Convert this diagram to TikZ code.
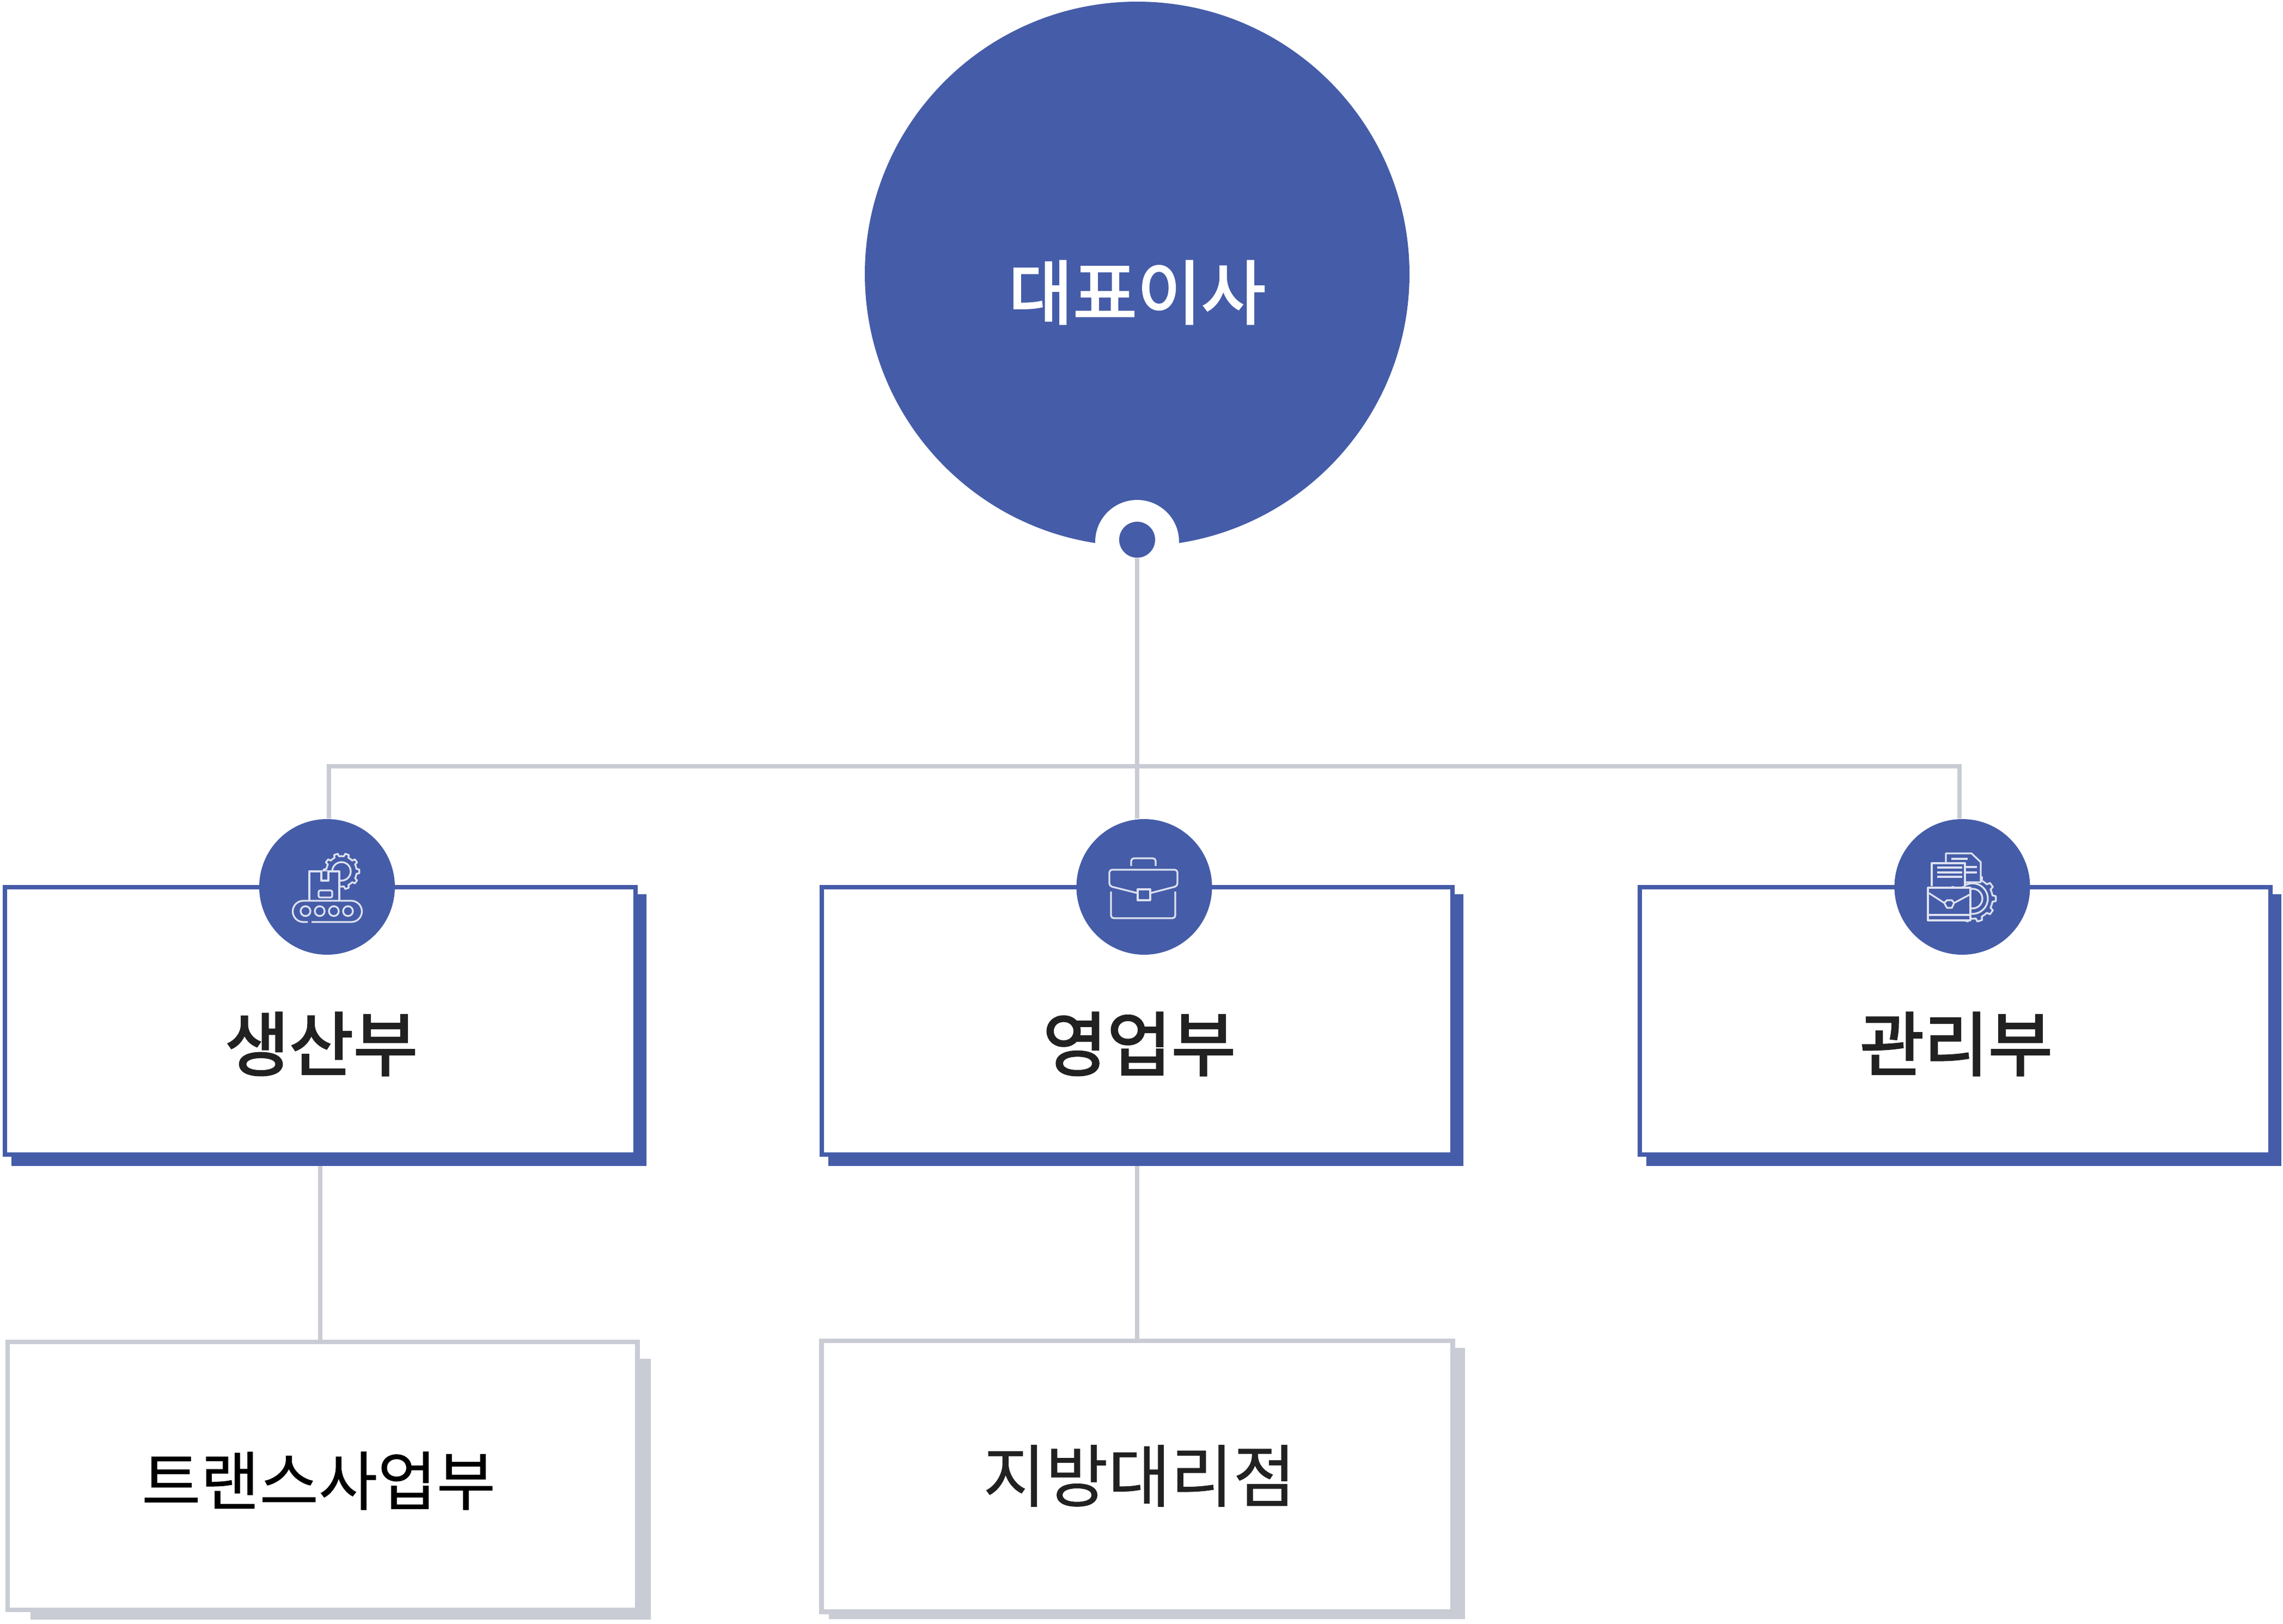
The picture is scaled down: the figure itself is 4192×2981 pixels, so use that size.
\documentclass[tikz,border=0pt]{standalone}
\usepackage{fontspec}
\newfontfamily\krfont[FakeBold=0.6]{Noto Sans CJK KR}
\newfontfamily\krheavy[FakeBold=2.5]{Noto Sans CJK KR}
\definecolor{mainblue}{HTML}{455CA8}
\definecolor{linegray}{HTML}{C9CCD4}
\definecolor{glyphline}{HTML}{DDE1F0}
\tikzstyle{head} = [circle, fill=mainblue, inner sep=0, minimum size=10cm]
\tikzstyle{badge} = [circle, fill=mainblue, inner sep=0, minimum size=2.49cm]
\tikzstyle{dept} = [rectangle, draw=mainblue, fill=white, line width=0.8mm, outer sep=0, inner sep=0, minimum width=11.585cm, minimum height=4.91cm]
\tikzstyle{unit} = [rectangle, draw=linegray, fill=white, line width=0.85mm, outer sep=0, inner sep=0]
\tikzstyle{depttext} = [text=black!87, font=\krheavy\fontsize{36.5}{36.5}\selectfont, inner sep=0]
\tikzstyle{line} = [draw=linegray, line width=0.75mm]
\tikzstyle{glyph} = [draw=glyphline, line width=0.33mm, line join=round, fill=mainblue]
\newcommand{\teeth}[3]{
	\foreach \a in {0,36,...,324}
		\draw[glyph, fill=none] (\a-18:#1) -- (\a-9:#1) -- (\a-6:#2) -- (\a+6:#2) -- (\a+9:#1) -- (\a+18:#1);
	\draw[glyph, fill=none] (0,0) circle [radius=#3];
}

\begin{document}
\begin{tikzpicture}[x=0.1mm, y=-0.1mm]
	\useasboundingbox (0,0) rectangle (4192,2981);

	\fill[mainblue] (21,1642) rectangle (1187,2141);
	\fill[mainblue] (1521,1642) rectangle (2687,2141);
	\fill[mainblue] (3023,1642) rectangle (4189,2141);
	\fill[linegray] (56,2495) rectangle (1195,2974);
	\fill[linegray] (1522,2475) rectangle (2690,2973);

	\node [dept] (prod) at (588,1874.5) {};
	\node [dept] (sales) at (2088,1874.5) {};
	\node [dept] (admin) at (3590,1874.5) {};
	\node [unit, minimum width=11.565cm, minimum height=4.92cm] (trans) at (592,2710) {};
	\node [unit, minimum width=11.59cm, minimum height=4.975cm] (agency) at (2088,2710.7) {};

	\node [head] (ceo) at (2088,503) {};
	\node [circle, fill=white, inner sep=0, minimum size=1.54cm] (notch) at (2088,995) {};
	\node [circle, fill=mainblue, inner sep=0, minimum size=0.66cm] (hub) at (2088,991) {};
	\node [badge] (iconprod) at (600.5,1628.5) {};
	\node [badge] (iconsales) at (2101,1628.5) {};
	\node [badge] (iconadmin) at (3603,1628.5) {};

	\coordinate (bus) at (2088,1407);
	\coordinate (busleft) at (604,1407);
	\coordinate (busright) at (3598,1407);
	\path[line] (hub) -- (hub |- iconsales.north);
	\path[line, line cap=rect] (busleft) -- (busright);
	\path[line] (busleft) -- (busleft |- iconprod.north);
	\path[line] (busright) -- (busright |- iconadmin.north);
	\path[line] (prod.south |- 0,2141) -- (prod.south |- trans.north);
	\path[line] (sales.south |- 0,2141) -- (agency.north);

	\node [text=white, font=\krheavy\fontsize{36.5}{36.5}\selectfont, inner sep=0] (ceotext) at (2088,537) {대표이사};
	\node [depttext] (prodtext) at (590,1917) {생산부};
	\node [depttext] (salestext) at (2092,1917) {영업부};
	\node [depttext] (admintext) at (3592,1917) {관리부};
	\node [text=black, font=\krfont\fontsize{33.5}{33.5}\selectfont, inner sep=0] (transtext) at (585,2719) {트랜스사업부};
	\node [text=black!87, font=\krfont\fontsize{35.5}{35.5}\selectfont, inner sep=0] (agencytext) at (2092,2710) {지방대리점};

	\begin{scope}[shift={(627,1600)}]
		\teeth{28}{33}{17}
	\end{scope}
	\draw[glyph] (568,1654) -- (568,1600) -- (623,1600) -- (623,1654);
	\draw[glyph] (590,1600) -- (590,1617) -- (603,1617) -- (603,1600);
	\draw[glyph, rounded corners=0.3mm] (585,1635) rectangle (610,1648);
	\draw[glyph, fill=none] (565,1693) -- (557,1693) arc [start angle=90, end angle=270, radius=19.5] -- (645,1654) arc [start angle=-90, end angle=90, radius=19.5] -- (572,1693);
	\foreach \x in {561,587,613,639}
		\draw[glyph, fill=none] (\x,1673) circle [radius=9];

	\draw[glyph, fill=none, rounded corners=0.5mm] (2077,1590) -- (2077,1576) -- (2122,1576) -- (2122,1590);
	\draw[glyph, fill=none, rounded corners=0.5mm] (2040,1637) -- (2040,1686) -- (2158,1686) -- (2158,1637);
	\draw[glyph, fill=none, rounded corners=0.5mm] (2089,1640) -- (2037,1627) -- (2037,1597) -- (2162,1597) -- (2162,1627) -- (2112,1640);
	\draw[glyph, fill=none] (2089,1633) rectangle (2112,1653);

	\begin{scope}[shift={(3622,1650)}]
		\teeth{37}{43}{28}
		\draw[glyph, fill=none] (0,0) circle [radius=18];
	\end{scope}
	\draw[glyph] (3573,1585) -- (3573,1567) -- (3620,1567) -- (3637,1583) -- (3637,1620) -- (3573,1620) -- cycle;
	\draw[glyph] (3547,1627) -- (3547,1585) -- (3608,1585) -- (3608,1627);
	\foreach \y in {1593,1602,1610}
		\draw[glyph] (3557,\y) -- (3603,\y);
	\foreach \y in {1592,1602}
		\draw[glyph] (3608,\y) -- (3630,\y);
	\draw[glyph] (3583,1577) -- (3613,1577);
	\draw[glyph] (3540,1630) rectangle (3618,1690);
	\draw[glyph] (3540,1680) -- (3618,1680);
	\draw[glyph] (3542,1640) -- (3570,1658) -- (3575,1653) -- (3584,1653) -- (3588,1658) -- (3618,1642);
	\draw[glyph] (3570,1658) -- (3575,1667) -- (3584,1667) -- (3588,1658);
\end{tikzpicture}
\end{document}
